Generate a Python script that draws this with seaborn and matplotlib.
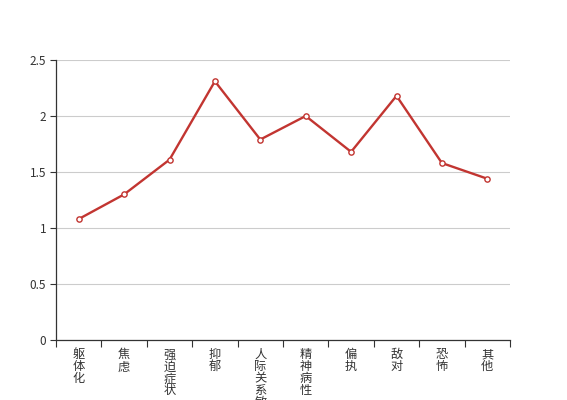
import numpy as np
import pandas as pd
import matplotlib
matplotlib.use('Agg')
import matplotlib.pyplot as plt
import seaborn as sns
from matplotlib.ticker import FixedLocator, FuncFormatter

# ── DATA ──────────────────────────────────────────────────────────────────────
CATEGORIES = ["躯体化", "焦虑", "强迫症状", "抑郁", "人际关系敏感",
              "精神病性", "偏执", "敌对", "恐怖", "其他"]
VALUES = [1.08, 1.30, 1.61, 2.31, 1.79, 2.00, 1.68, 2.18, 1.58, 1.44]
Y_TICKS = [0, 0.5, 1, 1.5, 2, 2.5]

LINE_COLOR = "#c23531"

sns.set_style("white")
plt.rcParams['font.family'] = ['Noto Sans CJK SC', 'DejaVu Sans']

df = pd.DataFrame({"cat": CATEGORIES, "val": VALUES})

fig = plt.figure(figsize=(5.67, 4.0), dpi=100)
ax = fig.add_axes([56 / 567, 60 / 400, (510 - 56) / 567, 280 / 400])

sns.lineplot(data=df, x="cat", y="val", ax=ax, color=LINE_COLOR, linewidth=1.7,
             marker="o", markersize=3.8, markerfacecolor="white",
             markeredgecolor=LINE_COLOR, markeredgewidth=1.0, sort=False)

n = len(CATEGORIES)
ax.set_xlim(-0.5, n - 0.5)
ax.set_ylim(0, 2.5)

# category boundary ticks (major) and centred vertical labels (minor)
ax.xaxis.set_major_locator(FixedLocator(np.arange(-0.5, n, 1.0)))
ax.xaxis.set_major_formatter(FuncFormatter(lambda v, p: ""))
ax.xaxis.set_minor_locator(FixedLocator(np.arange(n)))
ax.set_xticklabels(["\n".join(c) for c in CATEGORIES], minor=True)
ax.tick_params(axis="x", which="major", direction="out", length=5,
               width=0.8, color="#333333", bottom=True)
ax.tick_params(axis="x", which="minor", length=0, pad=6, labelsize=8.8,
               labelcolor="#333333")
for lab in ax.get_xticklabels(minor=True):
    lab.set_verticalalignment("top")
    lab.set_linespacing(0.9)

ax.set_yticks(Y_TICKS)
ax.yaxis.set_major_formatter(FuncFormatter(lambda v, p: f"{v:g}"))
ax.tick_params(axis="y", direction="out", length=4, width=0.8,
               color="#333333", labelsize=8.5, labelcolor="#333333", left=True, pad=3)

ax.grid(axis="y", color="#cccccc", linewidth=0.8)
ax.set_axisbelow(True)
for side in ["top", "right"]:
    ax.spines[side].set_visible(False)
for side in ["left", "bottom"]:
    ax.spines[side].set_color("#333333")
    ax.spines[side].set_linewidth(0.9)

ax.set_xlabel("")
ax.set_ylabel("")

fig.savefig("out.png", dpi=100)
